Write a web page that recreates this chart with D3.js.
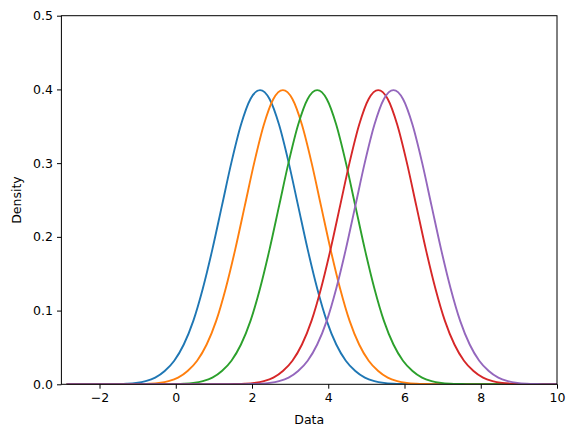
<!DOCTYPE html>
<html>
<head>
<meta charset="utf-8">
<script src="https://cdn.jsdelivr.net/npm/d3@7"></script>
<style>
  body { margin: 0; background: #fff; }
  svg text { font-family: "DejaVu Sans", sans-serif; fill: #000; }
</style>
</head>
<body>
<svg id="chart" width="576" height="438"></svg>
<script>
// peak position of each curve
var centers = [2.21, 2.81, 3.71, 5.31, 5.71];
var colors = ["#1f77b4", "#ff7f0e", "#2ca02c", "#d62728", "#9467bd"];
// density read at offsets from the peak (same shape for every curve)
var offsets = [0, 0.25, 0.5, 0.75, 1, 1.25, 1.5, 1.75, 2, 2.25, 2.5, 2.75, 3, 3.25, 3.5, 3.75, 4];
var profile = [0.399, 0.387, 0.352, 0.301, 0.242, 0.183, 0.130, 0.086, 0.054, 0.032, 0.018, 0.009, 0.0044, 0.002, 0.0009, 0.0004, 0.0001];
var lineStart = -2.86, lineEnd = 10.5;
var xTicks = [-2, 0, 2, 4, 6, 8, 10];
var yTicks = [0, 0.1, 0.2, 0.3, 0.4, 0.5];

var plotLeft = 61.4, plotRight = 557, plotTop = 15.7, plotBottom = 384.3;
var svg = d3.select("#chart");

var x = d3.scaleLinear().domain([-3, 10]).range([plotLeft, plotRight]);
var y = d3.scaleLinear().domain([0, 0.5]).range([plotBottom, plotTop]);

svg.append("clipPath").attr("id", "clip")
  .append("rect").attr("x", plotLeft).attr("y", plotTop)
  .attr("width", plotRight - plotLeft).attr("height", plotBottom - plotTop);

// build each curve's points from the shared profile
function curvePoints(c) {
  var pts = [[lineStart, 0]];
  for (var i = offsets.length - 1; i > 0; --i) {
    pts.push([c - offsets[i], profile[i]]);
  }
  for (var j = 0; j < offsets.length; ++j) {
    pts.push([c + offsets[j], profile[j]]);
  }
  pts.push([lineEnd, 0]);
  return pts;
}

var line = d3.line()
  .x(function (d) { return x(d[0]); })
  .y(function (d) { return y(d[1]); })
  .curve(d3.curveMonotoneX);

var g = svg.append("g").attr("clip-path", "url(#clip)");
centers.forEach(function (c, i) {
  g.append("path")
    .attr("d", line(curvePoints(c)))
    .attr("fill", "none")
    .attr("stroke", colors[i])
    .attr("stroke-width", 1.9);
});

// axes
var xAxis = svg.append("g").attr("transform", "translate(0," + plotBottom + ")")
  .call(d3.axisBottom(x).tickValues(xTicks).tickSize(4.4).tickPadding(4)
    .tickFormat(function (d) { return d < 0 ? "\u2212" + Math.abs(d) : d; }));
var yAxis = svg.append("g").attr("transform", "translate(" + plotLeft + ",0)")
  .call(d3.axisLeft(y).tickValues(yTicks).tickSize(4.4).tickPadding(4)
    .tickFormat(d3.format(".1f")));

[xAxis, yAxis].forEach(function (a) {
  a.select(".domain").remove();
  a.selectAll("line").attr("stroke", "#000").attr("stroke-width", 1);
  a.selectAll("text").style("font-size", "12.5px").attr("fill", "#000");
});

// frame
svg.append("rect").attr("x", plotLeft).attr("y", plotTop)
  .attr("width", plotRight - plotLeft).attr("height", plotBottom - plotTop)
  .attr("fill", "none").attr("stroke", "#000").attr("stroke-width", 1);

svg.append("text").attr("x", (plotLeft + plotRight) / 2).attr("y", 424)
  .attr("text-anchor", "middle").style("font-size", "12.5px").text("Data");
svg.append("text").attr("transform", "translate(21," + ((plotTop + plotBottom) / 2) + ") rotate(-90)")
  .attr("text-anchor", "middle").style("font-size", "12.5px").text("Density");
</script>
</body>
</html>
